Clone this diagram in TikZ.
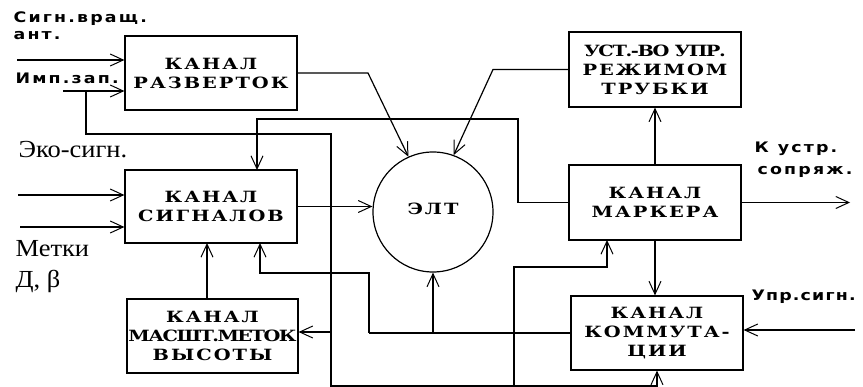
\documentclass[tikz,border=0pt]{standalone}
\usepackage{fontspec}
\usetikzlibrary{arrows.meta}
\newfontfamily\boxfont[FakeStretch=1.25,LetterSpace=13]{DejaVu Serif}
\newfontfamily\lblfont[FakeStretch=1.2,LetterSpace=15]{DejaVu Sans}
\newfontfamily\serfont[FakeStretch=1.08]{Liberation Serif}
\begin{document}
\begin{tikzpicture}[x=1pt,y=-1pt,line width=1.2pt,
  box/.style={draw, rectangle, inner sep=0pt, minimum width=172pt, minimum height=74pt,
    align=center, font=\boxfont\bfseries\fontsize{15.5}{19}\selectfont},
  eltbox/.style={draw, circle, minimum size=120pt, inner sep=0pt,
    font=\boxfont\bfseries\fontsize{15.5}{19}\selectfont},
  arr/.style={-{Straight Barb[length=13pt,width=12pt,line width=1pt]}},
  lbl/.style={anchor=base west, inner sep=0pt, font=\lblfont\bfseries\fontsize{14.5}{17}\selectfont},
  ser/.style={anchor=base west, inner sep=0pt, font=\serfont\fontsize{24.5}{26}\selectfont}]
\useasboundingbox (0,0) rectangle (863,387);

% blocks
\node[box] (razv) at (211,73) {КАНАЛ\\РАЗВЕРТОК};
\node[box, minimum height=73pt] (sign) at (211,206.5) {КАНАЛ\\СИГНАЛОВ};
\node[box, minimum width=171pt] (mash) at (212.5,336) {КАНАЛ\\{\addfontfeature{LetterSpace=-10}МАСШТ.МЕТОК}\\ВЫСОТЫ};
\node[box, minimum height=75pt] (ust) at (655,69.5) {{\addfontfeature{LetterSpace=-9}УСТ.-ВО УПР.}\\РЕЖИМОМ\\ТРУБКИ};
\node[box, minimum height=75pt] (mark) at (655,202.5) {КАНАЛ\\МАРКЕРА};
\node[box] (komm) at (657,333) {КАНАЛ\\КОММУТА-\\ЦИИ};
\node[eltbox] (elt) at (433,212) {\raisebox{7pt}{ЭЛТ}};

% labels
\node[lbl] (l1) at (13,23) {Сигн.вращ.};
\node[lbl] (l2) at (13,40) {ант.};
\node[lbl] (l3) at (15,84) {Имп.зап.};
\node[lbl] (l4) at (754,153) {К\hspace{9pt}устр.};
\node[lbl] (l5) at (757,175) {сопряж.};
\node[lbl] (l6) at (751,301) {\addfontfeature{LetterSpace=8}Упр.сигн.};
\node[ser] (l7) at (18,158) {Эко-сигн.};
\node[ser] (l8) at (15,257) {Метки};
\node[ser] (l9) at (15,288) {Д, β};

% free ends and junctions
\coordinate (in1) at (17,60);
\coordinate (in2) at (63,91);
\coordinate (j2) at (86,91);
\coordinate (in3) at (18,195);
\coordinate (in4) at (20,227);
\coordinate (in5) at (855,330);
\coordinate (out1) at (850,202.5);
\coordinate (bus) at (331,134);
\coordinate (jm) at (331,332);
\coordinate (jb) at (514,386);
\coordinate (jk) at (369,333);

% inputs
\draw[arr] (in1) -- (in1 -| razv.west);
\draw[arr] (in2) -- (in2 -| razv.west);
\draw[arr] (in3) -- (in3 -| sign.west);
\draw[arr] (in4) -- (in4 -| sign.west);
\draw[arr] (in5) -- (in5 -| komm.east);

% Имп.зап. distribution
\draw (j2) -- (j2 |- bus) -- (bus) -- (331,386) -- (jb);
\draw[arr] (jb) -- (komm.south |- jb) -- (komm.south);
\draw[arr] (jm) -- (jm -| mash.east);
\draw[arr] (jb) -- (514,267) -- (607,267) -- (607,240);

% to ELT
\draw[arr] (razv.east) -- (368,73) -- (elt.114);
\draw[arr] (ust.west) -- (493,69.5) -- (elt.70);
\draw[arr] (sign.east) -- (sign.east -| elt.west);

% marker
\draw[arr] (mark.north) -- (ust.south);
\draw[arr] (mark.east) -- (out1);
\draw[arr] (mark.south) -- (mark.south |- komm.north);
\draw[arr] (mark.west) -- (518,202.5) -- (518,119) -- (257,119) -- (257,170);

% commutation
\draw (komm.west) -- (jk);
\draw[arr] (jk) -- (369,273) -- (260,273) -- (260,243);
\draw[arr] (elt.south |- komm.west) -- (elt.south);

% height marks
\draw[arr] (207,299) -- (207,243);
\end{tikzpicture}
\end{document}
